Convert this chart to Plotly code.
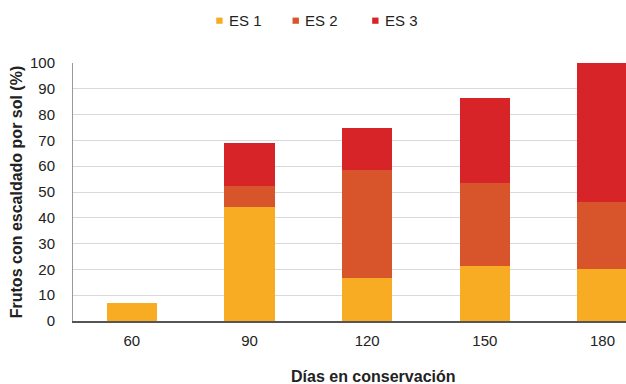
import plotly.graph_objects as go

# Days of storage and share of fruit with sunscald per severity class
dias = ["60", "90", "120", "150", "180"]
es1 = [7, 44, 16.5, 21.5, 20]
es2 = [0, 8.5, 42, 32, 26]
es3 = [0, 16.5, 16.5, 33, 54]

names = ["ES 1", "ES 2", "ES 3"]
colors = ["#F8AC24", "#D8552B", "#D72429"]
values = [es1, es2, es3]

font_family = "Liberation Sans, Arial, sans-serif"

fig = go.Figure()
for name, vals, color in zip(names, values, colors):
    fig.add_trace(go.Bar(
        x=dias, y=vals, name=name,
        marker=dict(color=color, line=dict(width=0)),
        width=0.43,
        showlegend=False,
    ))

# Compact legend above the plot: small square swatch followed by the label
legend_left = [0.259, 0.397, 0.541]   # paper x of each swatch's left edge
sw_w = 0.0115
for x0, name, color in zip(legend_left, names, colors):
    fig.add_shape(type="rect", xref="paper", yref="paper",
                  x0=x0, x1=x0 + sw_w, y0=1.152, y1=1.176,
                  fillcolor=color, line=dict(width=0))
    fig.add_annotation(xref="paper", yref="paper", x=x0 + sw_w + 0.008, y=1.165,
                       text=name, showarrow=False, xanchor="left", yanchor="middle",
                       font=dict(size=15, color="#222222", family=font_family))

# x-axis title, centred under the full category band
fig.add_annotation(xref="paper", yref="paper", x=0.5425, y=-0.217,
                   text="<b>Días en conservación</b>", showarrow=False,
                   xanchor="center", yanchor="middle",
                   font=dict(size=16, color="#222222", family=font_family))

fig.update_layout(
    barmode="stack",
    width=626, height=384,
    margin=dict(l=73, r=0, t=63, b=63),
    paper_bgcolor="white",
    plot_bgcolor="white",
    font=dict(family=font_family, size=15, color="#222222"),
    showlegend=False,
    xaxis=dict(
        type="category",
        range=[-0.5, 4.2],
        showline=True, linecolor="#555555", linewidth=1.5,
        ticks="", showgrid=False,
        tickfont=dict(size=15),
        ticklabelstandoff=5,
    ),
    yaxis=dict(
        range=[0, 100],
        dtick=10,
        showline=True, linecolor="#999999", linewidth=1,
        gridcolor="#D9D9D9", gridwidth=1,
        ticks="", tickfont=dict(size=15),
        ticklabelstandoff=14,
        zeroline=False,
        title=dict(text="<b>Frutos con escaldado por sol (%)</b>", font=dict(size=16), standoff=3),
    ),
)

fig.write_html("out.html")
